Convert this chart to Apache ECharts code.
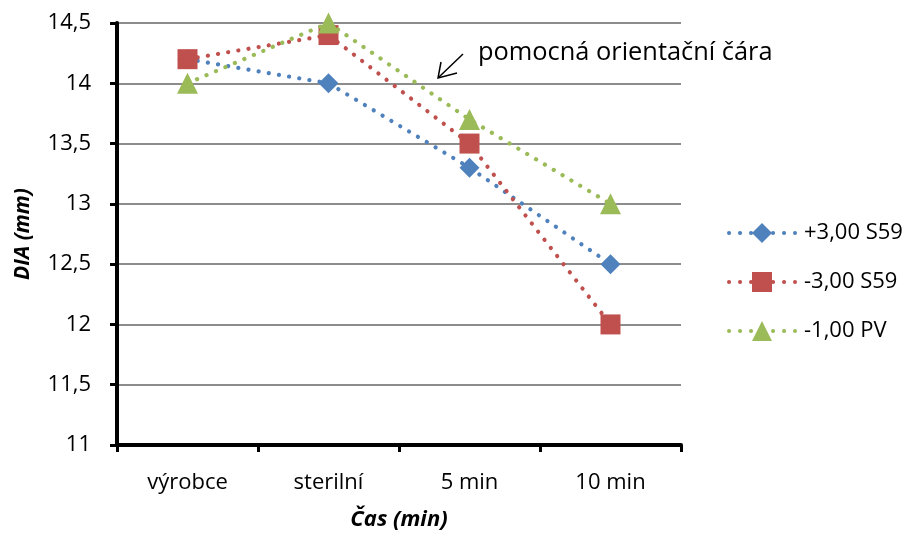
<!DOCTYPE html>
<html>
<head>
<meta charset="utf-8">
<script src="https://cdn.jsdelivr.net/npm/echarts@6/dist/echarts.min.js"></script>
<style>
  html, body { margin: 0; padding: 0; background: #fff; }
  #chart { width: 905px; height: 533px; }
</style>
</head>
<body>
<div id="chart"></div>
<script>
// Časové body měření
const categories = ['výrobce', 'sterilní', '5 min', '10 min'];

// Naměřený průměr (mm) pro jednotlivé čočky
const seriesNames = ['+3,00 S59', '-3,00 S59', '-1,00 PV'];
const plus3S59 = [14.2, 14.0, 13.3, 12.5];
const minus3S59 = [14.2, 14.4, 13.5, 12.0];
const minus1PV = [14.0, 14.5, 13.7, 13.0];

// Osa Y
const yMin = 11;
const yMax = 14.5;
const yStep = 0.5;

const FONT = '"Open Sans", sans-serif';
const colors = ['#4F81BD', '#C0504D', '#9BBB59'];
const symbols = ['diamond', 'rect', 'triangle'];
const symbolSizes = [20, 20, 21];
const values = [plus3S59, minus3S59, minus1PV];

const chart = echarts.init(document.getElementById('chart'), null, { renderer: 'canvas' });

const series = values.map((vals, i) => ({
  name: seriesNames[i],
  type: 'line',
  data: vals,
  symbol: symbols[i],
  symbolSize: symbolSizes[i],
  showAllSymbol: true,
  itemStyle: { color: colors[i] },
  lineStyle: { color: colors[i], width: 4.2, type: [0.1, 10.2], cap: 'round' },
  z: 2 + i,
  animation: false
}));

chart.setOption({
  animation: false,
  backgroundColor: '#ffffff',
  grid: { left: 117, right: 224, top: 23, bottom: 88, containLabel: false, outerBoundsMode: 'none' },
  xAxis: {
    type: 'category',
    data: categories,
    boundaryGap: true,
    name: 'Čas (min)',
    nameLocation: 'middle',
    nameGap: 64,
    nameTextStyle: { fontFamily: FONT, fontSize: 22, fontWeight: 'bold', fontStyle: 'italic', color: '#000' },
    axisLine: { lineStyle: { color: '#000', width: 4 } },
    axisTick: { show: true, alignWithLabel: false, length: 7, lineStyle: { color: '#000', width: 3 } },
    axisLabel: { fontFamily: FONT, fontSize: 22, color: '#000', margin: 27 },
    splitLine: { show: false }
  },
  yAxis: {
    type: 'value',
    min: yMin,
    max: yMax,
    interval: yStep,
    name: 'DIA (mm)',
    nameLocation: 'middle',
    nameGap: 83,
    nameRotate: 90,
    nameTextStyle: { fontFamily: FONT, fontSize: 21, fontWeight: 'bold', fontStyle: 'italic', color: '#000' },
    axisLine: { show: true, lineStyle: { color: '#000', width: 4 } },
    axisTick: { show: true, length: 7, lineStyle: { color: '#000', width: 3 } },
    axisLabel: {
      fontFamily: FONT, fontSize: 22, color: '#000', margin: 26,
      formatter: v => String(v).replace('.', ',')
    },
    splitLine: { show: true, lineStyle: { color: '#8c8c8c', width: 2 } }
  },
  legend: {
    orient: 'vertical',
    left: 722,
    top: 217,
    itemWidth: 66,
    itemHeight: 25,
    itemGap: 27,
    data: seriesNames,
    lineStyle: { width: 4, type: [0.1, 10.9], cap: 'round' },
    textStyle: { fontFamily: FONT, fontSize: 22, color: '#000', padding: [0, 0, 0, 4] }
  },
  graphic: [
    {
      type: 'text',
      x: 478,
      y: 53,
      style: { text: 'pomocná orientační čára', font: '25.4px ' + FONT, fill: '#000', verticalAlign: 'middle' }
    },
    {
      type: 'line',
      shape: { x1: 463, y1: 54, x2: 439, y2: 77 },
      style: { stroke: '#000', lineWidth: 1.5 }
    },
    {
      type: 'polyline',
      shape: { points: [[441, 62], [438, 78], [457, 73]] },
      style: { stroke: '#000', lineWidth: 1.5, fill: null }
    }
  ],
  series: series
});
</script>
</body>
</html>
